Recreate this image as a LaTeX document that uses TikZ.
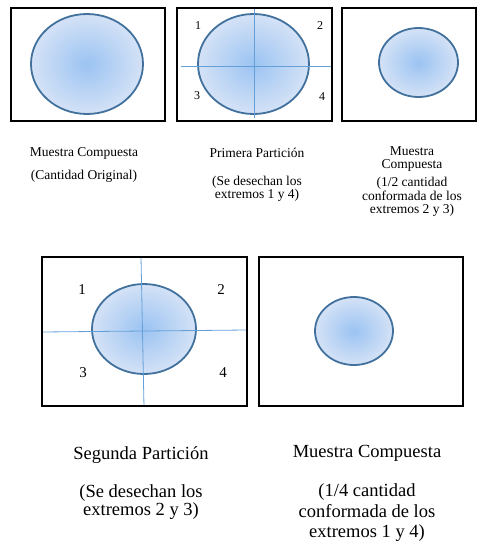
\documentclass[tikz,border=0pt]{standalone}
\usepackage{fontspec}
\setmainfont{Liberation Serif}
\usetikzlibrary{shapes.geometric}
\definecolor{grainin}{RGB}{155,195,242}
\definecolor{grainout}{RGB}{212,226,246}
\definecolor{grainrim}{RGB}{65,113,156}
\definecolor{cutblue}{RGB}{100,160,215}
\tikzset{
  box/.style={draw=black,line width=1.7pt,inner sep=0pt},
  grain/.style={ellipse,draw=grainrim,line width=1.8pt,shading=radial,
    inner color=grainin,outer color=grainout,inner sep=0pt},
  cut/.style={draw=cutblue,line width=0.8pt},
  num/.style={font=\fontsize{12}{12}\selectfont},
  legend/.style={align=center,font=\fontsize{13.5}{13.5}\selectfont},
  legendbig/.style={align=center,font=\fontsize{18.5}{18.5}\selectfont},
}
\begin{document}
\begin{tikzpicture}[x=1pt,y=-1pt]
  \useasboundingbox (0,0) rectangle (489,544);
  % top row
  \node[grain,minimum width=112pt,minimum height=100pt] (g1) at (87,64) {};
  \node[grain,minimum width=111pt,minimum height=100pt] (g2) at (253.5,64) {};
  \node[grain,minimum width=79pt,minimum height=69pt] (g3) at (418.5,62.5) {};
  \draw[cut] (254,7) -- (254,118);
  \draw[cut] (181,66) -- (332,66);
  \node[num] (p1) at (198,26) {1};
  \node[num] (p2) at (320,26) {2};
  \node[num] (p3) at (197,96) {3};
  \node[num] (p4) at (322,97) {4};
  \draw[box] (11,8) rectangle (165,121);
  \draw[box] (177,8) rectangle (332,121);
  \draw[box] (342,8) rectangle (476,121);
  \node[legend] (t1) at (84,153) {Muestra Compuesta};
  \node[legend] (n1) at (84,176) {(Cantidad Original)};
  \node[legend] (t2) at (257,153) {Primera Partición};
  \node[legend] (n2) at (257,189) {(Se desechan los\\extremos 1 y 4)};
  \node[legend] (t3) at (412,159) {Muestra\\Compuesta};
  \node[legend] (n3) at (412,197) {(1/2 cantidad\\conformada de los\\extremos 2 y 3)};
  % bottom row
  \node[grain,minimum width=104pt,minimum height=90pt] (g4) at (144,329) {};
  \node[grain,minimum width=78pt,minimum height=68pt] (g5) at (354,331) {};
  \draw[cut] (141,257) -- (144,407);
  \draw[cut] (42,332) -- (247,330);
  \node[num,font=\fontsize{15}{15}\selectfont] (q1) at (82,290) {1};
  \node[num,font=\fontsize{15}{15}\selectfont] (q2) at (221,290) {2};
  \node[num,font=\fontsize{15}{15}\selectfont] (q3) at (83,373) {3};
  \node[num,font=\fontsize{15}{15}\selectfont] (q4) at (223,373) {4};
  \draw[box] (42,257) rectangle (247,406);
  \draw[box] (259,257) rectangle (463,406);
  \node[legendbig] (t4) at (141,455) {Segunda Partición};
  \node[legendbig] (n4) at (141,502) {(Se desechan los\\extremos 2 y 3)};
  \node[legendbig] (t5) at (367,453) {Muestra Compuesta};
  \node[legendbig,font=\fontsize{18.5}{20.5}\selectfont] (n5) at (367,513) {(1/4 cantidad\\conformada de los\\extremos 1 y 4)};
\end{tikzpicture}
\end{document}
